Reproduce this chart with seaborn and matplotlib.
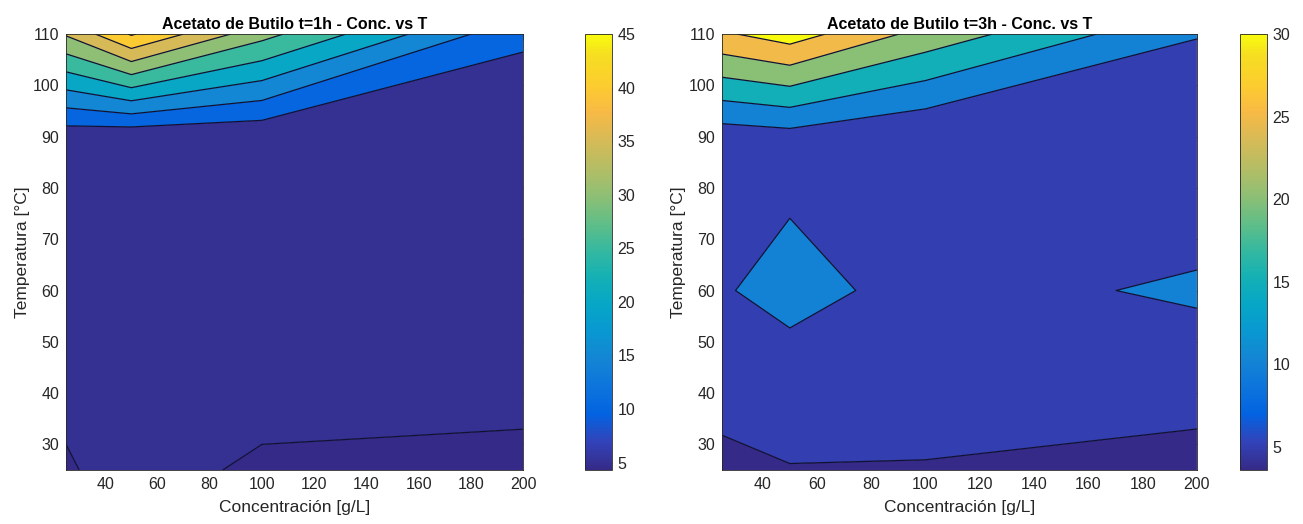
import numpy as np
import matplotlib
matplotlib.use("Agg")
import matplotlib.pyplot as plt
from matplotlib.colors import LinearSegmentedColormap, Normalize
from matplotlib.cm import ScalarMappable
import seaborn as sns

# ---- measured data (rows = temperature, columns = concentration) ----
conc = [25, 50, 100, 200]            # g/L
temp = [25, 40, 60, 80, 90, 110]     # °C

butyl_1h = [
    [4.59, 6.63, 4.30, 4.40],
    [5.82, 7.00, 6.40, 5.53],
    [7.00, 7.50, 7.00, 6.00],
    [7.50, 7.00, 6.50, 5.80],
    [7.00, 6.30, 5.90, 6.00],
    [35.5, 45.5, 31.7, 10.85],
]
butyl_3h = [
    [3.60, 4.86, 4.60, 4.20],
    [6.69, 6.52, 7.60, 5.70],
    [9.50, 12.0, 7.88, 10.9],
    [8.50, 9.16, 6.50, 6.40],
    [7.20, 8.05, 5.10, 6.00],
    [29.3, 32.4, 23.2, 10.2],
]

levels_1h = [5, 10, 15, 20, 25, 30, 35, 40, 45]
levels_3h = [5, 10, 15, 20, 25, 30]
clim_1h = (4.3, 45.0)
clim_3h = (3.6, 30.0)
cbar_ticks_1h = [5, 10, 15, 20, 25, 30, 35, 40, 45]
cbar_ticks_3h = [5, 10, 15, 20, 25, 30]

titles = ["Acetato de Butilo t=1h - Conc. vs T", "Acetato de Butilo t=3h - Conc. vs T"]
xlabel = "Concentración [g/L]"
ylabel = "Temperatura [°C]"
xticks = [40, 60, 80, 100, 120, 140, 160, 180, 200]
yticks = [30, 40, 50, 60, 70, 80, 90, 100, 110]

# ---- parula-like colormap ----
_parula = [
    [0.2081, 0.1663, 0.5292], [0.1959, 0.2645, 0.7279], [0.0117, 0.3875, 0.8820],
    [0.0498, 0.4586, 0.8641], [0.0793, 0.5200, 0.8312], [0.0343, 0.5966, 0.8199],
    [0.0228, 0.6535, 0.7768], [0.0843, 0.6928, 0.7062], [0.2178, 0.7250, 0.6193],
    [0.3953, 0.7459, 0.5244], [0.5709, 0.7485, 0.4494], [0.7184, 0.7411, 0.3905],
    [0.8507, 0.7299, 0.3360], [0.9739, 0.7314, 0.2666], [0.9880, 0.8066, 0.1794],
    [0.9626, 0.8705, 0.1309], [0.9763, 0.9831, 0.0538],
]
_pos = [i * 4 / 63 for i in range(16)] + [1.0]
parula = LinearSegmentedColormap.from_list("parula", list(zip(_pos, _parula)), N=256)

sns.set_theme(style="white")
plt.rcParams["font.family"] = ["Liberation Sans", "DejaVu Sans"]
text_col = "#262626"

fig = plt.figure(figsize=(13.03, 5.24), dpi=100)
ax_pos = [[0.0507, 0.103, 0.3507, 0.832], [0.5541, 0.103, 0.3645, 0.832]]
cb_pos = [[0.4490, 0.103, 0.0205, 0.832], [0.9517, 0.103, 0.0205, 0.832]]

panels = [
    (butyl_1h, levels_1h, clim_1h, cbar_ticks_1h),
    (butyl_3h, levels_3h, clim_3h, cbar_ticks_3h),
]

X, Y = np.meshgrid(conc, temp)
for k, (z, lev, clim, cticks) in enumerate(panels):
    ax = fig.add_axes(ax_pos[k])
    Z = np.array(z)
    norm = Normalize(*clim)
    bounds = [-100] + lev + [1000]
    # each band takes the colour of its lower contour level
    band_cols = [parula(0.0)] + [parula(float(np.clip(norm(v), 0, 1))) for v in lev]
    ax.contourf(X, Y, Z, levels=bounds, colors=band_cols, antialiased=True)
    ax.contour(X, Y, Z, levels=lev, colors="#111133", linewidths=0.9)

    ax.set_xlim(25, 200)
    ax.set_ylim(25, 110)
    ax.set_xticks(xticks)
    ax.set_yticks(yticks)
    ax.tick_params(direction="in", length=4, width=0.6, top=True, right=True,
                   labelsize=11.5, colors=text_col, pad=5)
    ax.tick_params(axis="both", which="both", color="#555555")
    for s in ax.spines.values():
        s.set_color("#262626")
        s.set_linewidth(0.6)
    ax.set_xlabel(xlabel, fontsize=12.5, color=text_col, labelpad=6)
    ax.set_ylabel(ylabel, fontsize=12.5, color=text_col, labelpad=2)
    ax.set_title(titles[k], fontsize=11.5, fontweight="bold", color="black", pad=4)

    cax = fig.add_axes(cb_pos[k])
    sm = ScalarMappable(norm=norm, cmap=parula)
    cb = fig.colorbar(sm, cax=cax)
    cb.set_ticks(cticks)
    cb.outline.set_edgecolor("#262626")
    cb.outline.set_linewidth(0.6)
    cax.tick_params(direction="in", length=3, width=0.6, labelsize=11.5,
                    colors=text_col, pad=4)
    cax.tick_params(color="#555555")

fig.savefig("out.png", dpi=100)
